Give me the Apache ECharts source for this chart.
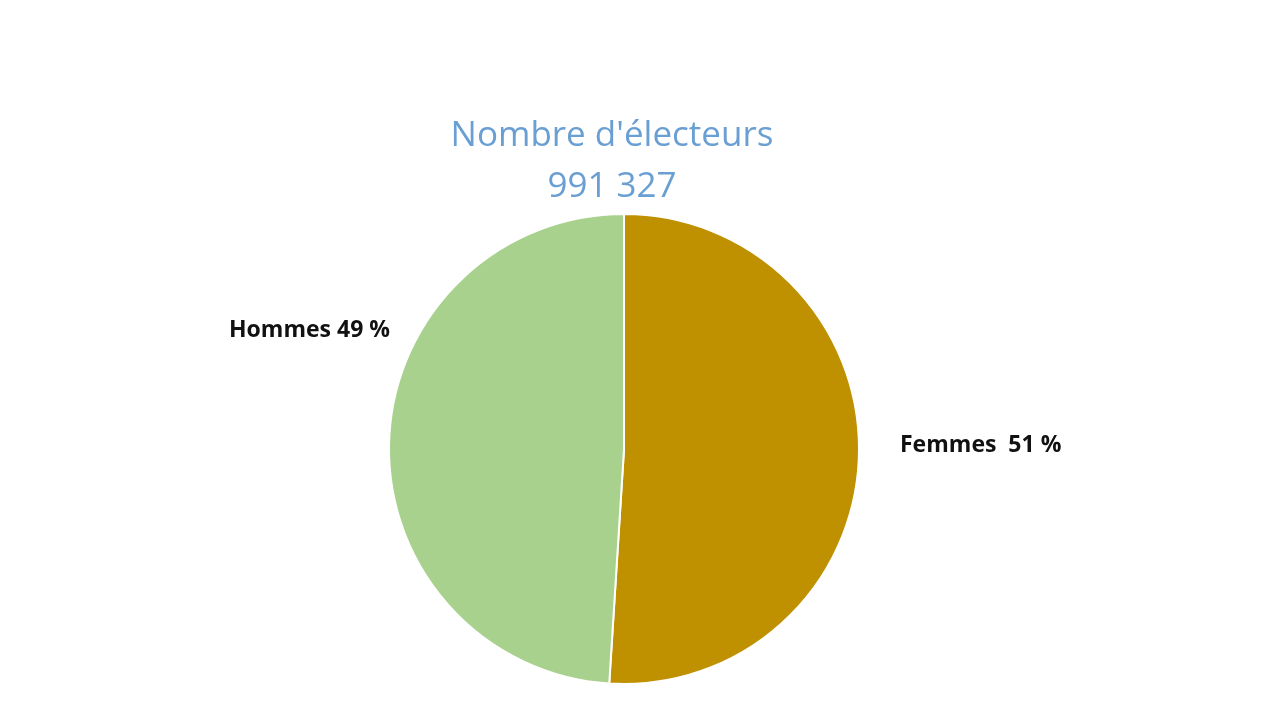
<!DOCTYPE html>
<html><head><meta charset="utf-8">
<script src="https://cdn.jsdelivr.net/npm/echarts@6/dist/echarts.min.js"></script>
<style>html,body{margin:0;padding:0;background:#fff}#c{width:1280px;height:720px}</style>
</head><body><div id="c"></div>
<script>
const titleLines = ["Nombre d'électeurs", "991 327"];
const categories = ["Femmes", "Hommes"];
const values = [51, 49];
const labelTexts = ["Femmes  51 %", "Hommes 49 %"];
const colors = ["#BF9000", "#A9D18E"];

const chart = echarts.init(document.getElementById('c'));
chart.setOption({
  animation: false,
  backgroundColor: '#fff',
  title: {
    text: titleLines.join('\n'),
    left: 607, textAlign: 'center', top: 106,
    textStyle: { color: '#6A9FD3', fontFamily: 'Open Sans', fontSize: 35, fontWeight: 500, lineHeight: 51 }
  },
  series: [{
    type: 'pie',
    center: [624, 449],
    radius: 235,
    startAngle: 90,
    clockwise: true,
    data: categories.map((c, i) => ({ name: c, value: values[i], itemStyle: { color: colors[i] } })),
    itemStyle: { borderColor: '#fff', borderWidth: 2 },
    label: {
      show: true, position: 'outside',
      formatter: p => labelTexts[p.dataIndex],
      color: '#111', fontFamily: 'Open Sans', fontWeight: 'bold', fontSize: 23
    },
    labelLine: { show: false },
    labelLayout: p => p.dataIndex === 0
      ? { x: 900, y: 445, align: 'left', verticalAlign: 'middle' }
      : { x: 390, y: 330, align: 'right', verticalAlign: 'middle' }
  }]
});
</script></body></html>
